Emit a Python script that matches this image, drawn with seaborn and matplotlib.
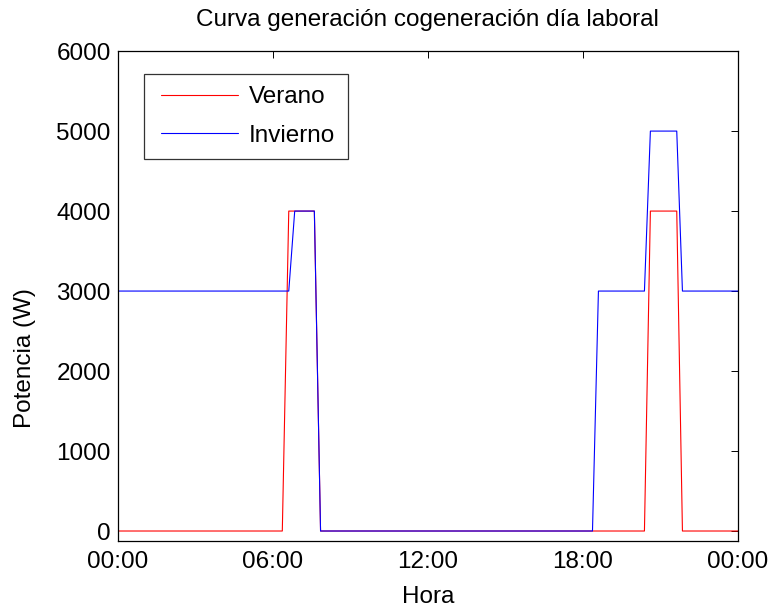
import numpy as np
import pandas as pd
import matplotlib
matplotlib.use("Agg")
import matplotlib.pyplot as plt
from matplotlib.lines import Line2D
from matplotlib.legend_handler import HandlerLine2D
import seaborn as sns

# Data (hours of day, power in W)
verano_h = [0, 6.37, 6.62, 7.61, 7.85, 20.38, 20.61, 21.63, 21.85, 24]
verano_w = [0, 0, 4000, 4000, 0, 0, 4000, 4000, 0, 0]
invierno_h = [0, 6.62, 6.85, 7.61, 7.85, 18.37, 18.60, 20.38, 20.61, 21.63, 21.85, 24]
invierno_w = [3000, 3000, 4000, 4000, 0, 0, 3000, 3000, 5000, 5000, 3000, 3000]
series_names = ["Verano", "Invierno"]
x_ticks = [0, 6, 12, 18, 24]
x_ticklabels = ["00:00", "06:00", "12:00", "18:00", "00:00"]
y_ticks = [0, 1000, 2000, 3000, 4000, 5000, 6000]

df = pd.concat([
    pd.DataFrame({"Hora": verano_h, "Potencia": verano_w, "Serie": series_names[0]}),
    pd.DataFrame({"Hora": invierno_h, "Potencia": invierno_w, "Serie": series_names[1]}),
], ignore_index=True)

sns.set_style("white")
plt.rcParams["font.family"] = ["Liberation Sans", "DejaVu Sans"]
plt.rcParams["text.color"] = "black"
plt.rcParams["axes.labelcolor"] = "black"

FS = 17.5
fig = plt.figure(figsize=(7.74, 6.12), dpi=100)
ax = fig.add_axes([0.152, 0.116, 0.8015, 0.8005])

sns.lineplot(data=df, x="Hora", y="Potencia", hue="Serie", sort=False,
             palette={"Verano": "#ff0000", "Invierno": "#0000ff"},
             linewidth=0.8, ax=ax, legend=True, estimator=None)

ax.set_xlim(0, 24)
ax.set_ylim(-125, 6000)
ax.set_xticks(x_ticks)
ax.set_xticklabels(x_ticklabels)
ax.set_yticks(y_ticks)
ax.tick_params(direction="in", length=5, width=0.7, top=True, right=True,
               labelsize=FS, colors="black")
ax.tick_params(axis="x", pad=7)
ax.tick_params(axis="y", pad=5)
for s in ax.spines.values():
    s.set_color("black")
    s.set_linewidth(0.9)

ax.set_xlabel("Hora", fontsize=FS, color="black")
ax.set_ylabel("Potencia (W)", fontsize=FS, color="black")
ax.xaxis.set_label_coords(0.5, -0.114)
ax.xaxis.label.set_va("center")
ax.yaxis.set_label_coords(-0.15, 0.373)
ax.yaxis.label.set_va("center")
ax.set_title("Curva generación cogeneración día laboral", fontsize=FS,
             y=1.063, va="center", pad=0, color="black")

handles, labels = ax.get_legend_handles_labels()
leg = ax.legend(handles, labels, loc="upper left", bbox_to_anchor=(0.042, 0.953),
                borderaxespad=0, fontsize=FS, frameon=True, fancybox=False,
                edgecolor="black", handlelength=3.4, borderpad=0.5,
                labelspacing=0.67, handletextpad=0.44,
                handler_map={Line2D: HandlerLine2D(xpad=0.2)})
leg.get_frame().set_linewidth(0.9)
for h in leg.get_lines():
    h.set_linewidth(0.8)
for t in leg.get_texts():
    t.set_color("black")

fig.savefig("out.png", dpi=100, facecolor="white")
